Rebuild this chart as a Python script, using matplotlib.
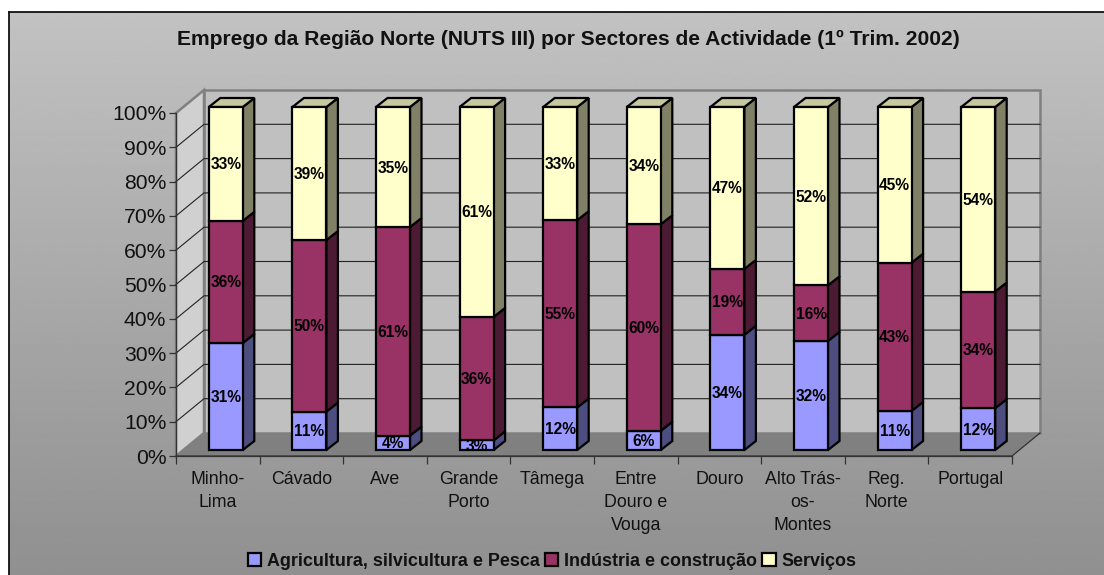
import numpy as np
import matplotlib
matplotlib.use("Agg")
import matplotlib.pyplot as plt
from matplotlib.patches import Patch

plt.rcParams['font.family'] = ['Liberation Sans', 'DejaVu Sans']

regions = ["Minho-\nLima", "Cávado", "Ave", "Grande\nPorto", "Tâmega", "Entre\nDouro e\nVouga",
           "Douro", "Alto Trás-\nos-\nMontes", "Reg.\nNorte", "Portugal"]
agricultura = [31.2, 11.2, 4.2, 2.8, 12.4, 5.6, 33.6, 31.8, 11.4, 12.2]
industria = [35.6, 50.0, 60.8, 36.0, 54.6, 60.2, 19.2, 16.2, 43.2, 34.0]
servicos = [33.2, 38.8, 35.0, 61.2, 33.0, 34.2, 47.2, 52.0, 45.4, 53.8]
series_names = ["Agricultura, silvicultura e Pesca", "Indústria e construção", "Serviços"]
yticks = list(range(0, 101, 10))

face_colors = ["#9999ff", "#993366", "#ffffcc"]
side_colors = ["#4d4d80", "#4d1a33", "#808066"]
top_color = "#c8c8a0"

W, H = 1104, 575
# front plane of the 3d box, in pixels
x0, x1, y0, y1 = 176, 1012, 456, 113
wall_dx, wall_dy = 28 / 83.6, 23 / 3.43   # floor depth, in data units
bar_dx, bar_dy = 11.5 / 83.6, 9 / 3.43    # bar depth
shift_x, shift_y = 8 / 83.6, 6 / 3.43     # bars sit a bit back from the front plane
bar_w = 34 / 83.6

fig = plt.figure(figsize=(W / 100, H / 100), dpi=100, facecolor="white")

# gradient background of the chart area
bg = fig.add_axes([8.5 / W, 0, 1 - 8.5 / W, 1 - 11.5 / H])
grad = np.linspace(0.76, 0.565, 256).reshape(-1, 1)
bg.imshow(grad, aspect="auto", cmap="gray", vmin=0, vmax=1, extent=[0, 1, 0, 1])
bg.set_xticks([])
bg.set_yticks([])
for s in ["right", "bottom"]:
    bg.spines[s].set_visible(False)
for s in ["left", "top"]:
    bg.spines[s].set_linewidth(1.3)
    bg.spines[s].set_color("#111111")

ax = fig.add_axes([x0 / W, 1 - y0 / H, (x1 - x0) / W, (y0 - y1) / H])
ax.patch.set_visible(False)
ax.set_xlim(0, len(regions))
ax.set_ylim(0, 100)
n = len(regions)

# walls and floor
wall_c = "#808080"
ax.fill([wall_dx, n + wall_dx, n + wall_dx, wall_dx], [wall_dy, wall_dy, 100 + wall_dy, 100 + wall_dy],
        facecolor="#c0c0c0", edgecolor=wall_c, lw=1.8, clip_on=False, zorder=1)
ax.fill([0, wall_dx, wall_dx, 0], [0, wall_dy, 100 + wall_dy, 100],
        facecolor="#d0d0d0", edgecolor=wall_c, lw=1.8, clip_on=False, zorder=1)
ax.fill([0, n, n + wall_dx, wall_dx], [0, 0, wall_dy, wall_dy],
        facecolor="#808080", edgecolor="none", clip_on=False, zorder=1.5)
for t in yticks[1:-1]:
    ax.plot([0, wall_dx, n + wall_dx], [t, t + wall_dy, t + wall_dy], color="#222222", lw=0.8,
            clip_on=False, zorder=2)
ax.plot([0, n, n + wall_dx], [0, 0, wall_dy], color="#333333", lw=0.9, clip_on=False, zorder=2.5)

# the stacked bars, drawn from the back to the front
xs = np.arange(n) + 0.5 + shift_x
bottom = np.zeros(n) + shift_y
for vals, fc, sc in zip([agricultura, industria, servicos], face_colors, side_colors):
    vals = np.array(vals)
    ax.bar(xs, vals, bar_w, bottom=bottom, color=fc, edgecolor="black", lw=1.6, zorder=4, clip_on=False)
    for x, b, v in zip(xs, bottom, vals):
        r = x + bar_w / 2
        ax.fill([r, r + bar_dx, r + bar_dx, r], [b, b + bar_dy, b + v + bar_dy, b + v],
                facecolor=sc, edgecolor="black", lw=1.6, zorder=3, clip_on=False)
        ax.text(x, b + v / 2 - 0.3, "%d%%" % round(v), ha="center", va="center", fontsize=11.2,
                fontweight="bold", color="black", zorder=6, clip_on=False)
    bottom = bottom + vals

# tops of the bars
for x, b in zip(xs, bottom):
    l, r = x - bar_w / 2, x + bar_w / 2
    ax.fill([l, r, r + bar_dx, l + bar_dx], [b, b, b + bar_dy, b + bar_dy],
            facecolor=top_color, edgecolor="black", lw=1.6, zorder=3, clip_on=False)

# axes
for s in ["top", "right"]:
    ax.spines[s].set_visible(False)
for s in ["left", "bottom"]:
    ax.spines[s].set_color("#333333")
    ax.spines[s].set_linewidth(0.9)
    ax.spines[s].set_zorder(2.5)
ax.set_yticks(yticks)
ax.set_yticklabels(["%d%%" % t for t in yticks], fontsize=15.2, color="#111111")
ax.tick_params(axis="y", length=5, width=0.9, color="#333333", pad=2)
ax.set_xticks(range(n + 1))
ax.set_xticklabels([])
ax.tick_params(axis="x", which="major", length=6, width=0.9, color="#333333")
ax.set_xticks(np.arange(n) + 0.5, minor=True)
ax.set_xticklabels(regions, minor=True, fontsize=12.8, color="#111111", linespacing=1.45)
ax.tick_params(axis="x", which="minor", length=0, pad=11)

fig.text(568 / W, 1 - 39.5 / H, "Emprego da Região Norte (NUTS III) por Sectores de Actividade (1º Trim. 2002)",
         ha="center", va="center", fontsize=15.1, fontweight="bold", color="#111111")

handles = [Patch(facecolor=c, edgecolor="black", lw=1.6, label=l) for c, l in zip(face_colors, series_names)]
fig.legend(handles=handles, ncol=3, loc="center", bbox_to_anchor=(552 / W, 1 - 561 / H), frameon=False,
           prop={"weight": "bold", "size": 12.9}, handlelength=0.75, handleheight=0.75,
           handletextpad=0.3, columnspacing=0.3, labelcolor="#111111")

fig.savefig("out.png", dpi=100)
